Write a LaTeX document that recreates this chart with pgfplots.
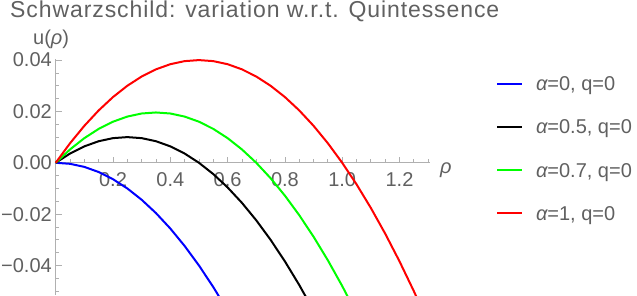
\documentclass[border=0pt]{standalone}
\usepackage{fontspec}
\setmainfont{Liberation Sans}
\newfontfamily\titlefont[LetterSpace=4.0]{Liberation Sans}
\usepackage{pgfplots}
\pgfplotsset{compat=1.18}
\definecolor{labelgray}{HTML}{606060}
\definecolor{axgray}{HTML}{B0B0B0}
\begin{document}
\begin{tikzpicture}
\useasboundingbox (0pt,0pt) rectangle (637pt,295pt);
\begin{axis}[
  at={(55.7pt,0pt)}, anchor=south west,
  scale only axis, width=373.9pt, height=236.2pt,
  xmin=0, xmax=1.305, ymin=-0.0515, ymax=0.0405,
  clip=false,
  axis lines=middle,
  every inner x axis line/.append style={-},
  every inner y axis line/.append style={-},
  axis line style={draw=axgray, line width=0.8pt},
  hide obscured x ticks=false, hide obscured y ticks=false,
  tick align=inside,
  major tick length=6pt, minor tick length=3.5pt,
  every tick/.style={draw=axgray, line width=0.8pt},
  xtick={0.2,0.4,0.6,0.8,1.0,1.2},
  xticklabels={0.2,0.4,0.6,0.8,1.0,1.2},
  minor xtick={0.05,0.1,0.15,0.25,0.3,0.35,0.45,0.5,0.55,0.65,0.7,0.75,0.85,0.9,0.95,1.05,1.1,1.15,1.25,1.3},
  ytick={-0.04,-0.02,0,0.02,0.04},
  yticklabels={−0.04,−0.02,0.00,0.02,0.04},
  minor ytick={-0.05,-0.045,-0.035,-0.03,-0.025,-0.015,-0.01,-0.005,0.005,0.01,0.015,0.025,0.03,0.035},
  ticklabel style={font=\fontsize{20}{24}\selectfont, text=labelgray, inner sep=0pt},
  xticklabel style={anchor=north, yshift=-10pt},
  yticklabel style={anchor=east, xshift=-3.7pt},
  scaled y ticks=false,
  title={\titlefont Schwarzschild: variation w.r.t. Quintessence},
  title style={at={(axis description cs:-0.1222,1.1502)}, anchor=base west, xshift=0pt, yshift=0pt, inner sep=0pt, font=\fontsize{23}{28}\selectfont, text=labelgray},
  xlabel={\itshape ρ},
  xlabel style={at={(axis description cs:1.0278,0.5165)}, anchor=base west, xshift=0pt, yshift=0pt, inner sep=0pt, font=\fontsize{20}{24}\selectfont, text=labelgray},
  ylabel={u(\textit{ρ})},
  ylabel style={at={(axis description cs:-0.0607,1.0614)}, anchor=base west, rotate=0, xshift=0pt, yshift=0pt, inner sep=0pt, font=\fontsize{20}{24}\selectfont, text=labelgray},
  legend cell align=left,
  legend image code/.code={\draw[#1] (0pt,0pt) -- (25pt,0pt); \path (38pt,0pt);},
  legend style={draw=none, fill=none, at={(axis description cs:1.1776,0.9257)}, anchor=north west, inner sep=0pt, outer sep=0pt, row sep=29pt, column sep=0pt, font=\fontsize{20}{24}\selectfont, text=labelgray, cells={anchor=west}, nodes={inner sep=0pt, text height=14.3pt, text depth=0pt}},
]
\addplot[color=blue, line width=2pt] coordinates {
(0,0) (0.05,-0.0004) (0.1,-0.0016) (0.15,-0.0036) (0.2,-0.0064) (0.25,-0.01) (0.3,-0.0144) (0.35,-0.0196) (0.4,-0.0256) (0.45,-0.0324) (0.5,-0.04) (0.55,-0.0484) (0.6,-0.0576)};
\addlegendentry{{\itshape α}=0, q=0}
\addplot[color=black, line width=2pt] coordinates {
(0,0) (0.05,0.0036) (0.1,0.0064) (0.15,0.0084) (0.2,0.0096) (0.25,0.01) (0.3,0.0096) (0.35,0.0084) (0.4,0.0064) (0.45,0.0036) (0.5,0) (0.55,-0.0044) (0.6,-0.0096) (0.65,-0.0156) (0.7,-0.0224) (0.75,-0.03) (0.8,-0.0384) (0.85,-0.0476) (0.9,-0.0576)};
\addlegendentry{{\itshape α}=0.5, q=0}
\addplot[color=green, line width=2pt] coordinates {
(0,0) (0.05,0.0052) (0.1,0.0096) (0.15,0.0132) (0.2,0.016) (0.25,0.018) (0.3,0.0192) (0.35,0.0196) (0.4,0.0192) (0.45,0.018) (0.5,0.016) (0.55,0.0132) (0.6,0.0096) (0.65,0.0052) (0.7,0) (0.75,-0.006) (0.8,-0.0128) (0.85,-0.0204) (0.9,-0.0288) (0.95,-0.038) (1.0,-0.048) (1.05,-0.0588)};
\addlegendentry{{\itshape α}=0.7, q=0}
\addplot[color=red, line width=2pt] coordinates {
(0,0) (0.05,0.0076) (0.1,0.0144) (0.15,0.0204) (0.2,0.0256) (0.25,0.03) (0.3,0.0336) (0.35,0.0364) (0.4,0.0384) (0.45,0.0396) (0.5,0.04) (0.55,0.0396) (0.6,0.0384) (0.65,0.0364) (0.7,0.0336) (0.75,0.03) (0.8,0.0256) (0.85,0.0204) (0.9,0.0144) (0.95,0.0076) (1.0,0) (1.05,-0.0084) (1.1,-0.0176) (1.15,-0.0276) (1.2,-0.0384) (1.25,-0.05) (1.3,-0.0624)};
\addlegendentry{{\itshape α}=1, q=0}
\end{axis}
\end{tikzpicture}
\end{document}
